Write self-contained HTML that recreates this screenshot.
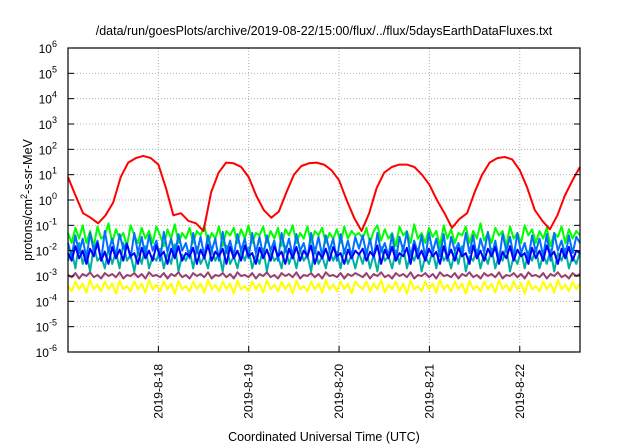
<!DOCTYPE html>
<html><head><meta charset="utf-8"><style>
body{margin:0;background:#fff;}
svg{display:block;font-family:"Liberation Sans",sans-serif;}
</style></head><body>
<svg id="chart" width="640" height="448" viewBox="0 0 640 448">
<rect width="640" height="448" fill="#fff"/>
<text x="324" y="35" font-size="12.5" text-anchor="middle">/data/run/goesPlots/archive/2019-08-22/15:00/flux/../flux/5daysEarthDataFluxes.txt</text>
<text x="324" y="441" font-size="12.5" text-anchor="middle">Coordinated Universal Time (UTC)</text>
<text transform="translate(32,200) rotate(-90)" font-size="12.5" text-anchor="middle">protons/cm<tspan dy="-5" font-size="9">2</tspan><tspan dy="5">-s-sr-MeV</tspan></text>
<g id="grid"></g><g id="series"></g><g id="axes"></g>
</svg>
<script>
const xTickLabels=["2019-8-18","2019-8-19","2019-8-20","2019-8-21","2019-8-22"];
const xTickHours=[24,48,72,96,120];
const yTickExps=[-6,-5,-4,-3,-2,-1,0,1,2,3,4,5,6];
const redHours=[0,2,4,6,8,10,12,14,16,18,20,22,24,26,28,30,32,34,36,38,40,42,44,46,48,50,52,54,56,58,60,62,64,66,68,70,72,74,76,78,80,82,84,86,88,90,92,94,96,98,100,102,104,106,108,110,112,114,116,118,120,122,124,126,128,130,132,134,136];
const redFlux=[8,1.5,0.3,0.2,0.12,0.25,0.8,8,30,45,55,45,25,3,0.25,0.3,0.15,0.12,0.06,2,12,30,28,20,8,1.5,0.4,0.2,0.35,2,10,22,28,30,25,15,6,1,0.2,0.06,0.3,3,12,20,25,25,20,10,4,1,0.3,0.08,0.18,0.3,2,10,30,45,50,40,15,3,0.4,0.15,0.07,0.25,1.5,6,20];
const greenFlux=[0.05,0.02,0.08,0.03,0.1,0.02,0.06,0.015,0.09,0.03,0.04,0.12,0.02,0.07,0.03,0.05,0.015,0.1,0.04,0.02,0.08,0.03,0.06,0.02,0.09,0.04,0.015,0.07,0.03,0.11,0.02,0.05,0.03,0.08,0.02,0.06,0.04,0.1,0.02,0.05,0.03,0.09,0.015,0.06,0.04,0.08,0.02,0.07,0.03,0.1,0.02,0.05,0.04,0.09,0.02,0.06,0.03,0.08,0.015,0.07,0.04,0.1,0.02,0.05,0.03,0.09,0.02,0.06,0.04,0.08,0.02,0.05,0.03,0.07,0.02,0.09,0.03,0.06,0.04,0.05,
0.03,0.08,0.02,0.06,0.1,0.025,0.07,0.03,0.05,0.015,0.09,0.04,0.06,0.02,0.11,0.03,0.05,0.02,0.08,0.035,0.06,0.015,0.1,0.03,0.07,0.02,0.05,0.04,0.09,0.02,0.06,0.03,0.12,0.025,0.05,0.02,0.08,0.04,0.06,0.015,0.09,0.03,0.05,0.02,0.1,0.04,0.07,0.02,0.06,0.03,0.08,0.015,0.05,0.035,0.09,0.02,0.07,0.03,0.06,0.04];
const tealFlux=[0.004,0.01,0.002,0.02,0.003,0.008,0.0015,0.015,0.004,0.006,0.002,0.012,0.003,0.009,0.002,0.02,0.004,0.007,0.0015,0.01,0.003,0.015,0.002,0.006,0.004,0.012,0.002,0.008,0.003,0.018,0.0015,0.007,0.004,0.01,0.002,0.014,0.003,0.006,0.002,0.011,0.004,0.008,0.0015,0.016,0.003,0.006,0.002,0.01,0.004,0.013,0.002,0.007,0.003,0.012,0.0015,0.009,0.004,0.006,0.002,0.015,0.003,0.008,0.002,0.011,0.004,0.007,0.0015,0.013,0.003,0.006,0.002,0.01,0.004,0.009,0.002,0.012,0.003,0.007,0.002,0.008,
0.003,0.011,0.002,0.007,0.0015,0.014,0.004,0.006,0.002,0.01,0.003,0.016,0.002,0.008,0.004,0.012,0.0015,0.006,0.003,0.01,0.002,0.013,0.004,0.007,0.002,0.009,0.003,0.015,0.0015,0.006,0.004,0.011,0.002,0.008,0.003,0.012,0.002,0.007,0.004,0.014,0.0015,0.006,0.003,0.01,0.002,0.009,0.004,0.013,0.002,0.007,0.003,0.011,0.0015,0.008,0.004,0.012,0.002,0.006,0.003,0.009];
const lightBlueFlux=[0.02,0.006,0.04,0.008,0.03,0.005,0.05,0.01,0.025,0.004,0.06,0.009,0.03,0.006,0.045,0.012,0.02,0.005,0.05,0.008,0.035,0.006,0.04,0.01,0.025,0.004,0.055,0.009,0.03,0.006,0.045,0.01,0.02,0.005,0.05,0.008,0.035,0.006,0.04,0.01,0.03,0.004,0.055,0.008,0.025,0.006,0.045,0.01,0.03,0.005,0.05,0.008,0.035,0.006,0.04,0.01,0.025,0.004,0.05,0.009,0.03,0.006,0.045,0.01,0.02,0.005,0.05,0.008,0.035,0.006,0.04,0.01,0.03,0.004,0.045,0.008,0.025,0.006,0.035,0.012,
0.04,0.007,0.03,0.005,0.05,0.009,0.02,0.006,0.045,0.004,0.035,0.01,0.055,0.006,0.025,0.008,0.04,0.005,0.05,0.009,0.03,0.006,0.045,0.004,0.035,0.01,0.02,0.006,0.05,0.008,0.04,0.005,0.03,0.009,0.055,0.006,0.025,0.004,0.045,0.01,0.035,0.006,0.05,0.008,0.02,0.005,0.04,0.009,0.03,0.006,0.045,0.004,0.05,0.01,0.025,0.006,0.04,0.008,0.035,0.02];
const blueFlux=[0.008,0.004,0.015,0.005,0.01,0.003,0.012,0.006,0.02,0.004,0.009,0.003,0.014,0.005,0.011,0.004,0.018,0.006,0.008,0.003,0.013,0.005,0.01,0.004,0.016,0.006,0.009,0.003,0.012,0.005,0.015,0.004,0.008,0.006,0.013,0.003,0.011,0.005,0.017,0.004,0.009,0.006,0.012,0.003,0.014,0.005,0.01,0.004,0.016,0.006,0.008,0.003,0.013,0.005,0.011,0.004,0.015,0.006,0.009,0.003,0.012,0.005,0.014,0.004,0.01,0.006,0.016,0.003,0.009,0.005,0.012,0.004,0.014,0.006,0.008,0.003,0.011,0.005,0.01,0.007,
0.012,0.004,0.009,0.006,0.016,0.003,0.011,0.005,0.014,0.004,0.008,0.006,0.013,0.003,0.017,0.005,0.01,0.004,0.012,0.006,0.009,0.003,0.015,0.005,0.011,0.004,0.013,0.006,0.008,0.003,0.016,0.005,0.01,0.004,0.012,0.006,0.014,0.003,0.009,0.005,0.015,0.004,0.011,0.006,0.008,0.003,0.013,0.005,0.01,0.004,0.016,0.006,0.009,0.003,0.012,0.005,0.014,0.004,0.01,0.008];
const purpleFlux=[0.0011,0.0009,0.0013,0.0008,0.0012,0.001,0.0014,0.0009,0.0011,0.0008,0.0013,0.001,0.0012,0.0009,0.0014,0.0008,0.0011,0.001,0.0013,0.0009,0.0012,0.0008,0.0014,0.001,0.0011,0.0009,0.0013,0.0008,0.0012,0.001,0.0014,0.0009,0.0011,0.0008,0.0013,0.001,0.0012,0.0009,0.0014,0.0008,0.0011,0.001,0.0013,0.0009,0.0012,0.0008,0.0014,0.001,0.0011,0.0009,0.0013,0.0008,0.0012,0.001,0.0014,0.0009,0.0011,0.0008,0.0013,0.001,0.0012,0.0009,0.0014,0.0008,0.0011,0.001,0.0013,0.0009,0.0012,0.0008,0.0014,0.001,0.0011,0.0009,0.0013,0.0008,0.0012,0.001,0.0013,0.0011,
0.0009,0.0013,0.0008,0.0012,0.001,0.0014,0.0009,0.0011,0.0008,0.0013,0.001,0.0012,0.0009,0.0014,0.0008,0.0011,0.001,0.0013,0.0009,0.0012,0.0008,0.0014,0.001,0.0011,0.0009,0.0013,0.0008,0.0012,0.001,0.0014,0.0009,0.0011,0.0008,0.0013,0.001,0.0012,0.0009,0.0014,0.0008,0.0011,0.001,0.0013,0.0009,0.0012,0.0008,0.0014,0.001,0.0011,0.0009,0.0013,0.0008,0.0012,0.001,0.0014,0.0009,0.0011,0.0008,0.0013,0.001,0.0012];
const yellowFlux=[0.0004,0.00025,0.0006,0.0003,0.0005,0.00022,0.0007,0.0003,0.00045,0.00025,0.0006,0.0003,0.0005,0.0002,0.00065,0.0003,0.0004,0.00025,0.0006,0.0003,0.0005,0.00022,0.0007,0.0003,0.00045,0.00025,0.0006,0.0003,0.0005,0.0002,0.00065,0.0003,0.0004,0.00025,0.0006,0.0003,0.0005,0.00022,0.0007,0.0003,0.00045,0.00025,0.0006,0.0003,0.0005,0.0002,0.00065,0.0003,0.0004,0.00025,0.0006,0.0003,0.0005,0.00022,0.0007,0.0003,0.00045,0.00025,0.0006,0.0003,0.0005,0.0002,0.00065,0.0003,0.0004,0.00025,0.0006,0.0003,0.0005,0.00022,0.0007,0.0003,0.00045,0.00025,0.0006,0.0003,0.0005,0.0002,0.0006,0.0004,
0.0003,0.0006,0.00025,0.0005,0.0003,0.0007,0.00022,0.00045,0.0003,0.0006,0.00025,0.0005,0.0002,0.00065,0.0003,0.0004,0.00025,0.0006,0.0003,0.0005,0.00022,0.0007,0.0003,0.00045,0.00025,0.0006,0.0003,0.0005,0.0002,0.00065,0.0003,0.0004,0.00025,0.0006,0.0003,0.0005,0.00022,0.0007,0.0003,0.00045,0.00025,0.0006,0.0003,0.0005,0.0002,0.00065,0.0003,0.0004,0.00025,0.0006,0.0003,0.0005,0.00022,0.0007,0.0003,0.00045,0.00025,0.0006,0.0003,0.0005];

const L=68,R=580,T=48,B=352,H0=0,H1=136;
const xs=h=>L+(h-H0)/(H1-H0)*(R-L);
const ys=v=>B-(Math.log10(v)+6)/12*(B-T);
const NS="http://www.w3.org/2000/svg";
function mk(tag,attrs,parent){const e=document.createElementNS(NS,tag);for(const k in attrs)e.setAttribute(k,attrs[k]);parent.appendChild(e);return e;}
const grid=document.getElementById('grid'),ser=document.getElementById('series'),ax=document.getElementById('axes');
yTickExps.forEach(e=>{const y=ys(Math.pow(10,e));
 if(e>-6&&e<6){const g=mk('line',{x1:L,x2:R,y1:y,y2:y,stroke:'#b0b0b0','stroke-dasharray':'1,2','stroke-width':1},grid);
 
 }
 const t1=mk('line',{x1:L,x2:L+6,y1:y,y2:y,stroke:'#000'},ax);
 
 
 const t2=mk('line',{x1:R-6,x2:R,y1:y,y2:y,stroke:'#000'},ax);
 
 
 const tx=mk('text',{x:57,y:y+5,'font-size':12,'text-anchor':'end'},ax);
 
 
 tx.textContent='10';const sp=mk('tspan',{dy:-6,'font-size':9},tx);sp.textContent=String(e);
});
xTickHours.forEach((h,i)=>{const x=xs(h);
 const g=mk('line',{x1:x,x2:x,y1:T,y2:B,stroke:'#b0b0b0','stroke-dasharray':'1,2'},grid);
 
 
 const t=mk('line',{x1:x,x2:x,y1:B-6,y2:B,stroke:'#000'},ax);
 
 
 const tx=mk('text',{transform:`translate(${x+4},364) rotate(-90)`,'font-size':12,'text-anchor':'end'},ax);
 
 
 tx.textContent=xTickLabels[i];
});
const fr=mk('rect',{x:L,y:T,width:R-L,height:B-T,fill:'none',stroke:'#000','stroke-width':1.2},ax);


function line(vals,hours,color,name,w){
 const pts=vals.map((v,i)=>{const h=hours?hours[i]:H0+i*(H1-H0)/(vals.length-1);return xs(h).toFixed(1)+','+ys(v).toFixed(1);}).join(' ');
 const p=mk('polyline',{points:pts,fill:'none',stroke:color,'stroke-width':w,'stroke-linejoin':'round'},ser);
 
 
}
line(greenFlux,null,'#00ff00','series-green',2);
line(tealFlux,null,'#00b0a0','series-teal',2);
line(lightBlueFlux,null,'#0070ff','series-light-blue',2);
line(blueFlux,null,'#0000ff','series-blue',2);
line(purpleFlux,null,'#984070','series-purple',2);
line(yellowFlux,null,'#ffff00','series-yellow',2);
line(redFlux,redHours,'#ff0000','series-red',2);
</script>
</body></html>
